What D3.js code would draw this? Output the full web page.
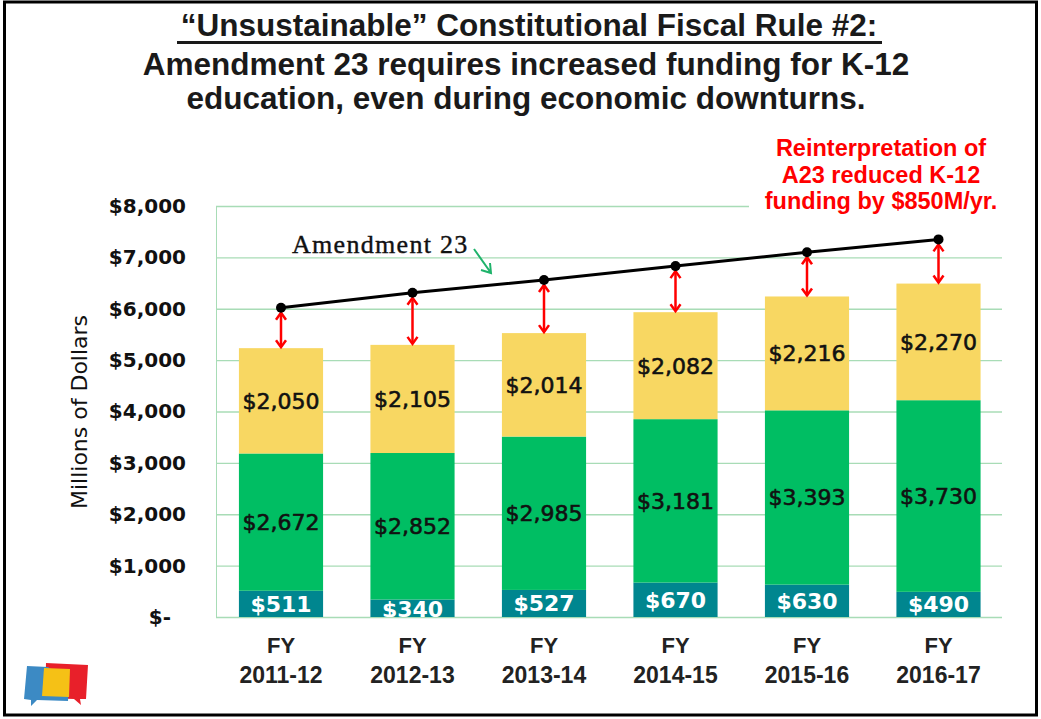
<!DOCTYPE html>
<html>
<head>
<meta charset="utf-8">
<script src="https://cdnjs.cloudflare.com/ajax/libs/d3/7.8.5/d3.min.js"></script>
<style>
  body { margin: 0; background: #fff; }
  svg { display: block; }
</style>
</head>
<body>
<svg id="chart" width="1041" height="719"></svg>
<script>
// chart values
const years = ["2011-12", "2012-13", "2013-14", "2014-15", "2015-16", "2016-17"];
const tealVals = [511, 340, 527, 670, 630, 490];
const greenVals = [2672, 2852, 2985, 3181, 3393, 3730];
const yellowVals = [2050, 2105, 2014, 2082, 2216, 2270];
const a23Vals = [6020, 6310, 6560, 6830, 7100, 7350];
const yTicks = [0, 1000, 2000, 3000, 4000, 5000, 6000, 7000, 8000];
const titleLines = ["Amendment 23 requires increased funding for K-12", "education, even during economic downturns."];
const noteLines = ["Reinterpretation of", "A23 reduced K-12", "funding by $850M/yr."];

const svg = d3.select("#chart");
const plotL = 216, plotR = 1002, plotT = 206, plotB = 617;

const x = d3.scaleBand()
  .domain(years)
  .range([215.25, 1004.25])
  .paddingInner(0.36)
  .paddingOuter(0.18);

const y = d3.scaleLinear()
  .domain([0, 8000])
  .range([plotB, plotT]);

// outer frame
svg.append("rect")
  .attr("x", 4.5).attr("y", 2)
  .attr("width", 1032).attr("height", 713)
  .attr("fill", "#fff")
  .attr("stroke", "#000")
  .attr("stroke-width", 3);

// title
svg.append("text")
  .attr("x", 529).attr("y", 36)
  .attr("text-anchor", "middle")
  .style("font-family", "Liberation Sans, Arial, sans-serif")
  .style("font-weight", "bold")
  .style("font-size", "31.5px")
  .attr("fill", "#1a1a1a")
  .text("\u201cUnsustainable\u201d Constitutional Fiscal Rule #2:");
svg.append("line")
  .attr("x1", 177).attr("x2", 882)
  .attr("y1", 42.5).attr("y2", 42.5)
  .attr("stroke", "#1a1a1a").attr("stroke-width", 3);

svg.selectAll(".title2")
  .data(titleLines)
  .enter().append("text")
  .attr("class", "title2")
  .attr("x", 526)
  .attr("y", (d, i) => 75 + i * 34)
  .attr("text-anchor", "middle")
  .style("font-family", "Liberation Sans, Arial, sans-serif")
  .style("font-weight", "bold")
  .style("font-size", "31.5px")
  .attr("fill", "#1a1a1a")
  .text(d => d);

// gridlines + y labels
const yAxis = d3.axisLeft(y)
  .tickValues(yTicks)
  .tickSize(-(plotR - plotL))
  .tickPadding(30)
  .tickFormat(d => d === 0 ? "$-" : "$" + d3.format(",")(d));

const gAxis = svg.append("g")
  .attr("transform", `translate(${plotL},0)`)
  .call(yAxis);
gAxis.select(".domain").attr("stroke", "#a8dcb6");
gAxis.selectAll(".tick line").attr("stroke", "#a8dcb6").attr("stroke-width", 1.3);
gAxis.selectAll(".tick text")
  .attr("fill", "#111")
  .style("font-family", "DejaVu Sans, sans-serif")
  .style("font-weight", "bold")
  .style("font-size", "20px")
  .attr("x", d => d === 0 ? -45 : -30);

// y title
svg.append("text")
  .attr("transform", "translate(87,412) rotate(-90)")
  .attr("text-anchor", "middle")
  .style("font-family", "DejaVu Sans, sans-serif")
  .style("font-size", "22px")
  .attr("fill", "#111")
  .text("Millions of Dollars");

// white box behind the red note
svg.append("rect")
  .attr("x", 749).attr("y", 128)
  .attr("width", 280).attr("height", 86)
  .attr("fill", "#fff");

// stacked bars
const stackData = years.map((yr, i) => ({ year: yr, teal: tealVals[i], green: greenVals[i], yellow: yellowVals[i] }));
const keys = ["teal", "green", "yellow"];
const colors = { teal: "#00868f", green: "#00be63", yellow: "#f8d762" };
const series = d3.stack().keys(keys)(stackData);

svg.append("defs").append("clipPath")
  .attr("id", "plotClip")
  .append("rect")
  .attr("x", plotL).attr("y", 0)
  .attr("width", plotR - plotL).attr("height", plotB);

const gBars = svg.append("g");
series.forEach(s => {
  gBars.selectAll(".bar-" + s.key)
    .data(s)
    .enter().append("rect")
    .attr("x", d => x(d.data.year))
    .attr("width", x.bandwidth())
    .attr("y", d => y(d[1]))
    .attr("height", d => y(d[0]) - y(d[1]))
    .attr("fill", colors[s.key]);
});

const gLabels = svg.append("g").attr("clip-path", "url(#plotClip)");
series.forEach(s => {
  const col = s.key === "teal" ? "#fff" : "#111";
  gLabels.selectAll(".lab-" + s.key)
    .data(s)
    .enter().append("text")
    .attr("x", d => x(d.data.year) + x.bandwidth() / 2)
    .attr("y", d => Math.max((y(d[0]) + y(d[1])) / 2, y(d[1]) + 10))
    .attr("dy", "0.36em")
    .attr("text-anchor", "middle")
    .style("font-family", "DejaVu Sans, sans-serif")
    .style("font-size", "22px")
    .style("font-weight", s.key === "teal" ? "bold" : "normal")
    .attr("fill", col)
    .attr("stroke", s.key === "teal" ? "none" : col)
    .attr("stroke-width", 0.6)
    .text(d => "$" + d3.format(",")(d[1] - d[0]));
});

// red double arrows
const cx = d => x(d) + x.bandwidth() / 2;
const gArr = svg.append("g").attr("stroke", "#ff0000").attr("stroke-width", 2.5).attr("fill", "none");
years.forEach((yr, i) => {
  const top = y(a23Vals[i]) + 5;
  const bot = y(tealVals[i] + greenVals[i] + yellowVals[i]) - 1;
  const xc = cx(yr);
  gArr.append("line").attr("x1", xc).attr("x2", xc).attr("y1", top).attr("y2", bot);
  gArr.append("path").attr("d", `M${xc - 5},${top + 7}L${xc},${top}L${xc + 5},${top + 7}`);
  gArr.append("path").attr("d", `M${xc - 5},${bot - 7}L${xc},${bot}L${xc + 5},${bot - 7}`);
});

// Amendment 23 line
const line = d3.line()
  .x((d, i) => cx(years[i]))
  .y(d => y(d));
svg.append("path")
  .datum(a23Vals)
  .attr("d", line)
  .attr("fill", "none")
  .attr("stroke", "#000")
  .attr("stroke-width", 3);
svg.selectAll(".pt")
  .data(a23Vals)
  .enter().append("circle")
  .attr("cx", (d, i) => cx(years[i]))
  .attr("cy", d => y(d))
  .attr("r", 5)
  .attr("fill", "#000");

svg.append("text")
  .attr("x", 292).attr("y", 253)
  .style("font-family", "Liberation Serif, Times New Roman, serif")
  .style("font-size", "26px")
  .style("letter-spacing", "1.3px")
  .attr("fill", "#111")
  .attr("stroke", "#111")
  .attr("stroke-width", 0.4)
  .text("Amendment 23");
svg.append("path")
  .attr("d", "M474,249L491,273M481,270L491,273L490,263")
  .attr("fill", "none")
  .attr("stroke", "#1fb36b")
  .attr("stroke-width", 2);

// red note
svg.selectAll(".note")
  .data(noteLines)
  .enter().append("text")
  .attr("x", 881)
  .attr("y", (d, i) => 156 + i * 26.5)
  .attr("text-anchor", "middle")
  .style("font-family", "Liberation Sans, Arial, sans-serif")
  .style("font-weight", "bold")
  .style("font-size", "23.5px")
  .attr("fill", "#ff0000")
  .text(d => d);

// x labels
const gX = svg.append("g");
years.forEach(yr => {
  gX.append("text")
    .attr("x", cx(yr)).attr("y", 653)
    .attr("text-anchor", "middle")
    .style("font-family", "Liberation Sans, Arial, sans-serif")
    .style("font-weight", "bold")
    .style("font-size", "22px")
    .attr("fill", "#222")
    .text("FY");
  gX.append("text")
    .attr("x", cx(yr)).attr("y", 683)
    .attr("text-anchor", "middle")
    .style("font-family", "Liberation Sans, Arial, sans-serif")
    .style("font-weight", "bold")
    .style("font-size", "23px")
    .attr("fill", "#222")
    .text(yr);
});

// logo bubbles
const logo = svg.append("g");
logo.append("path").attr("d", "M46,663L88,665L86,699L80,699L81,705L74,699L45,698Z").attr("fill", "#e8202a");
logo.append("path").attr("d", "M27,666L48,667L69,681L68,701L37,700L31,706L31,700L24,699Z").attr("fill", "#3c8ac4");
logo.append("path").attr("d", "M44,668L70,669L69,697L42,696Z").attr("fill", "#f5c116");
</script>
</body>
</html>
